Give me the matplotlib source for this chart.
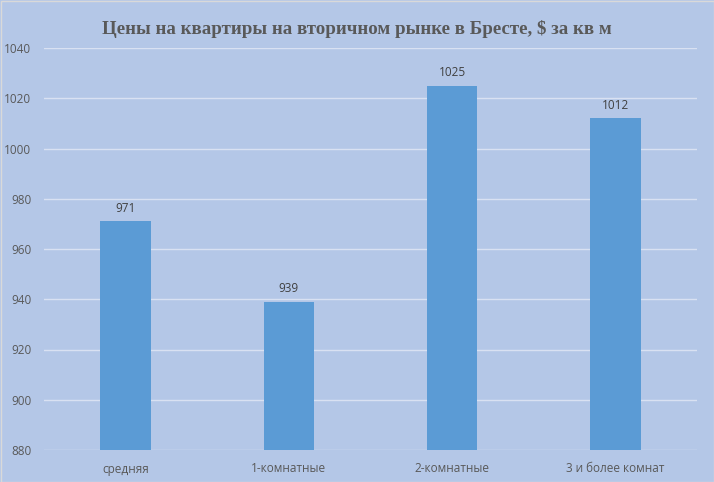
import matplotlib
matplotlib.use("Agg")
import matplotlib.pyplot as plt

categories = ["средняя", "1-комнатные", "2-комнатные", "3 и более комнат"]
values = [971, 939, 1025, 1012]
yticks = [880, 900, 920, 940, 960, 980, 1000, 1020, 1040]
title = "Цены на квартиры на вторичном рынке в Бресте, $ за кв м"

bg = "#B4C7E7"
bar_color = "#5B9BD5"
text_color = "#595959"

fig = plt.figure(figsize=(7.14, 4.82), dpi=100, facecolor=bg)
ax = fig.add_axes([44/714, 1 - 450/482, (697-44)/714, (450-48)/482])
ax.set_facecolor(bg)

x = list(range(len(categories)))
bars = ax.bar(x, values, width=0.31, color=bar_color, zorder=3)
for xi, v in zip(x, values):
    ax.text(xi, v + 5.2, str(v), ha="center", va="center", fontsize=8.5,
            color="#404040", family="Open Sans")

ax.set_ylim(880, 1040)
ax.set_xlim(-0.5, len(categories) - 0.5)
ax.set_yticks(yticks)
ax.set_yticklabels([str(t) for t in yticks], fontsize=8.5, color=text_color, family="Open Sans")
ax.set_xticks(x)
ax.set_xticklabels(categories, fontsize=8.5, color=text_color, family="Open Sans")
ax.tick_params(axis="y", length=0, pad=9)
ax.tick_params(axis="x", length=0, pad=9)
ax.yaxis.grid(True, color="#D9E1F2", linewidth=1, zorder=0)
for s in ax.spines.values():
    s.set_visible(False)

fig.text(357/714, 1 - 29/482, title, ha="center", va="center", fontsize=13.6,
         fontweight="bold", color=text_color, family="Liberation Serif")

border = plt.Rectangle((0.5/714, 0.5/482), 713/714, 481/482, transform=fig.transFigure,
                       fill=False, edgecolor="#D9D9D9", linewidth=1)
fig.patches.append(border)

fig.savefig("out.png", dpi=100, facecolor=bg)
